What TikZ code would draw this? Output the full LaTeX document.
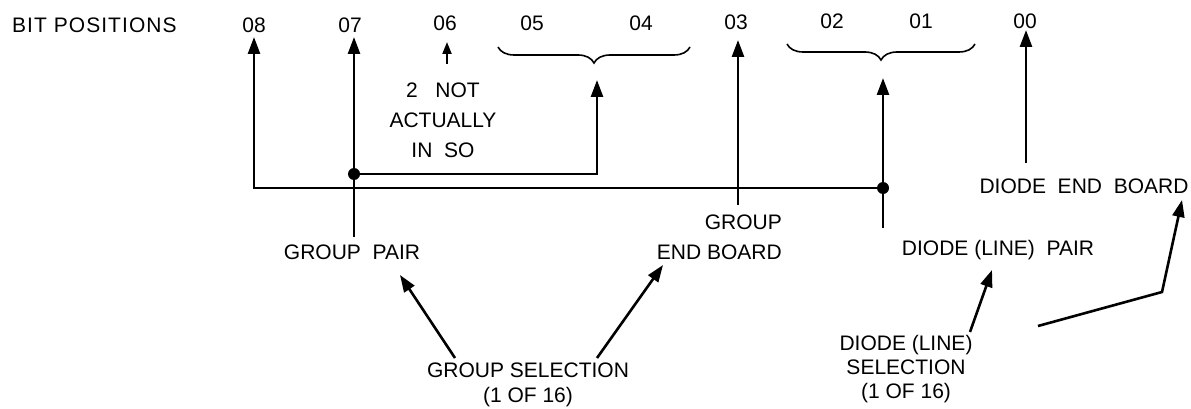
\documentclass[tikz,border=0pt]{standalone}
\usepackage{fontspec}
\setmainfont{Liberation Sans}
\usetikzlibrary{arrows.meta,decorations.pathreplacing}
\begin{document}
\begin{tikzpicture}[x=1pt,y=-1pt,
  lbl/.style={font=\fontsize{21}{25}\selectfont, inner sep=0pt, align=center},
  wire/.style={line width=2.6pt},
  arr/.style={wire,-{Triangle[length=17pt,width=12pt]}},
  smallarr/.style={line width=2pt,-{Triangle[length=12pt,width=9pt]}},
  junction/.style={circle,fill,inner sep=0pt,minimum size=12pt},
  grp/.style={line width=1.6pt, decorate, decoration={brace,mirror,amplitude=16pt}}]
\useasboundingbox (0,0) rectangle (1191,409);

% bit position header
\node[lbl, anchor=west, font=\fontsize{21}{25}\selectfont\addfontfeature{LetterSpace=5}] (bitpos) at (12,25) {BIT POSITIONS};
\node[lbl] (b08) at (254,25) {08};
\node[lbl] (b07) at (350,25) {07};
\node[lbl] (b06) at (445,23) {06};
\node[lbl] (b05) at (532,23) {05};
\node[lbl] (b04) at (641,23) {04};
\node[lbl] (b03) at (736,22) {03};
\node[lbl] (b02) at (832,21) {02};
\node[lbl] (b01) at (921,21) {01};
\node[lbl] (b00) at (1025,21) {00};

% field labels
\node[lbl, font=\fontsize{21}{30}\selectfont] (note) at (443,120) {2\ \ \ NOT\\ACTUALLY\\IN\ \ SO};
\node[lbl] (gpair) at (352,252) {GROUP\ \ PAIR};
\node[lbl, font=\fontsize{21}{30}\selectfont, align=right, anchor=east] (gend) at (782,237) {GROUP\\END BOARD};
\node[lbl] (dpair) at (998,250) {DIODE\ (LINE)\ \ PAIR};
\node[lbl] (dend) at (1084,186) {DIODE\ \ END\ \ BOARD};
\node[lbl] (gsel) at (528,385) {GROUP SELECTION\\(1 OF 16)};
\node[lbl, font=\fontsize{21}{24}\selectfont] (dsel) at (906,369) {DIODE (LINE)\\SELECTION\\(1 OF 16)};

% braces over the paired bits
\draw[grp] (498,47) -- (690,47);
\draw[grp] (787,44) -- (975,44);

% junctions
\node[junction] (j1) at (354,174) {};
\node[junction] (j2) at (883,188) {};

% line ends
\coordinate (t08) at (254,37);
\coordinate (t07) at (354,37);
\coordinate (s07) at (354,237);
\coordinate (t54) at (597,80);
\coordinate (t06) at (447,42);
\coordinate (s06) at (447,64);
\coordinate (t03) at (738,40);
\coordinate (s03) at (738,205);
\coordinate (t21) at (883,78);
\coordinate (s21) at (883,228);
\coordinate (t00) at (1026,30);
\coordinate (s00) at (1026,163);

% bit connections
\draw[arr] (j2.center) -| (t08);
\draw[arr] (s07) -- (t07);
\draw[arr] (j1.center) -| (t54);
\draw[smallarr] (s06) -- (t06);
\draw[arr] (s03) -- (t03);
\draw[arr] (s21) -- (t21);
\draw[arr] (s00) -- (t00);

% selection pointers
\coordinate (g1) at (455,358);
\coordinate (g2) at (597,358);
\coordinate (d1) at (970,332);
\coordinate (e1) at (1038,326);
\coordinate (e2) at (1162,292);
\draw[arr] (g1) -- (400,275);
\draw[arr] (g2) -- (663,265);
\draw[arr] (d1) -- (992,270);
\draw[arr] (e1) -- (e2) -- (1182,200);
\end{tikzpicture}
\end{document}
